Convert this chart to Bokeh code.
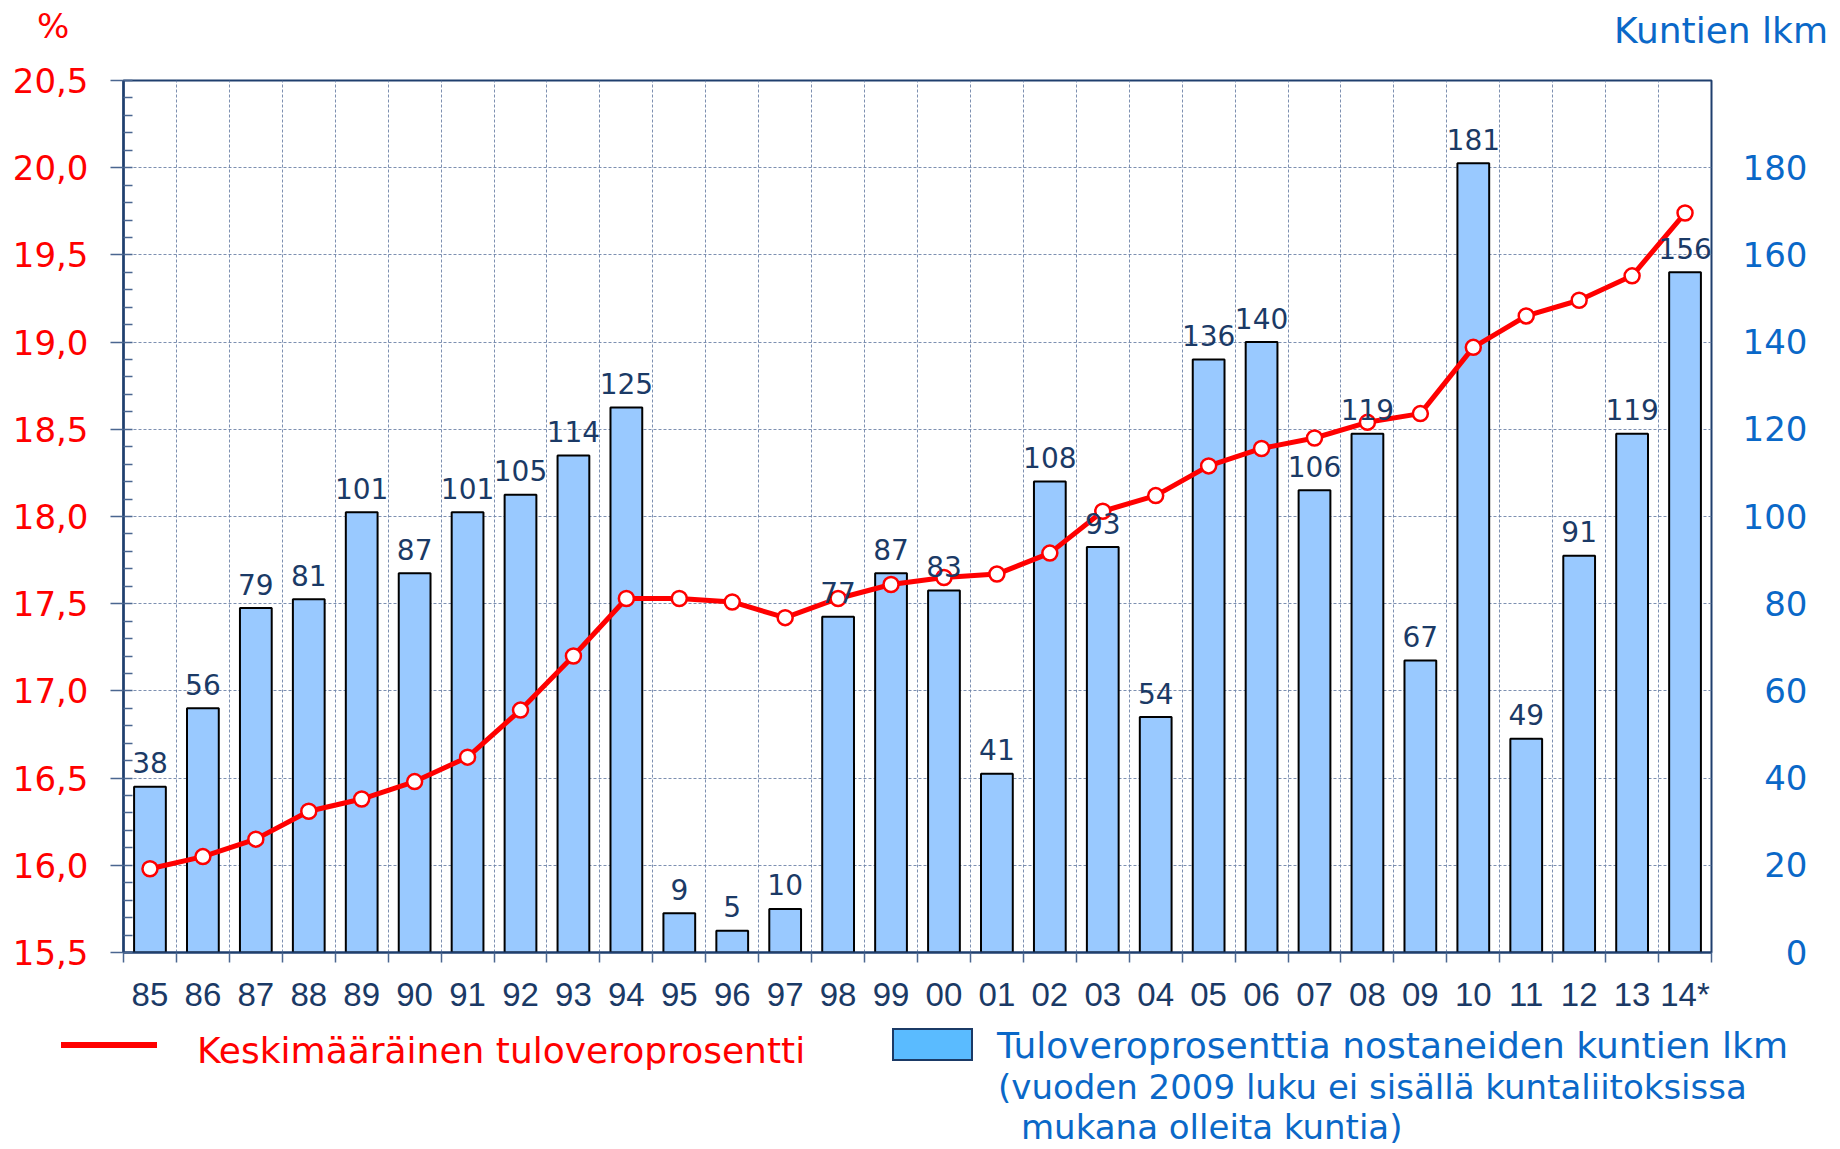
from bokeh.plotting import figure
from bokeh.layouts import column
from bokeh.models import (Range1d, LinearAxis, FixedTicker, ColumnDataSource, Div)
from bokeh.core.properties import value
from bokeh.embed import file_html
from bokeh.resources import INLINE

# ---------------- data ----------------
years = ["85", "86", "87", "88", "89", "90", "91", "92", "93", "94",
         "95", "96", "97", "98", "99", "00", "01", "02", "03", "04",
         "05", "06", "07", "08", "09", "10", "11", "12", "13", "14*"]
counts = [38, 56, 79, 81, 101, 87, 101, 105, 114, 125,
          9, 5, 10, 77, 87, 83, 41, 108, 93, 54,
          136, 140, 106, 119, 67, 181, 49, 91, 119, 156]
rates = [15.98, 16.05, 16.15, 16.31, 16.38, 16.48, 16.62, 16.89, 17.20, 17.53,
         17.53, 17.51, 17.42, 17.53, 17.61, 17.65, 17.67, 17.79, 18.03, 18.12,
         18.29, 18.39, 18.45, 18.54, 18.59, 18.97, 19.15, 19.24, 19.38, 19.74]
pct_ticks = [15.5, 16.0, 16.5, 17.0, 17.5, 18.0, 18.5, 19.0, 19.5, 20.0, 20.5]
pct_labels = ["15,5", "16,0", "16,5", "17,0", "17,5", "18,0", "18,5", "19,0", "19,5", "20,0", "20,5"]
count_ticks = [0, 20, 40, 60, 80, 100, 120, 140, 160, 180]

line_name = "Keskimääräinen tuloveroprosentti"
bar_name = "Tuloveroprosenttia nostaneiden kuntien lkm"
note_1 = "(vuoden 2009 luku ei sisällä kuntaliitoksissa"
note_2 = "mukana olleita kuntia)"
left_title = "%"
right_title = "Kuntien lkm"

# ---------------- layout constants ----------------
W = 1832
FW, FH = 1588, 872
BL, BR = 123, W - 123 - 1588
HT = 55            # top strip height
MT, MB = 25, 72    # main figure top / bottom borders
HB = 124           # bottom strip height
N = len(years)
YMIN, YMAX = 15.5, 20.5
CMAX = 200
LABEL_GAP_PX = 24  # gap between bar top and its value label anchor

FONT = "DejaVu Sans"
NAVY = "#1B3A66"
RED = "#FF0000"
BLUE = "#0A68C8"
BAR_FILL = "#99C9FF"
SWATCH_FILL = "#5ABBFF"


def span(text, left, top, size, color, right=None):
    pos = f"left:{left}px;" if right is None else f"right:{right}px;"
    return (f'<span style="position:absolute;{pos}top:{top}px;'
            f"font-family:'{FONT}';font-size:{size}px;line-height:{size}px;"
            f'color:{color};white-space:nowrap;">{text}</span>')


# ---------------- top strip (axis titles) ----------------
top_html = (f'<div style="position:relative;width:{W}px;height:{HT}px;">'
            + span(left_title, 37, 9, 34, RED)
            + span(right_title, None, 13, 36, BLUE, right=W - 1828)
            + '</div>')
top = Div(text=top_html, width=W, height=HT, margin=0)

# ---------------- main chart ----------------
xs = [i + 0.5 for i in range(N)]
gap_units = LABEL_GAP_PX * CMAX / FH
src = ColumnDataSource(dict(x=xs, count=counts, rate=rates,
                            lab=[str(c) for c in counts],
                            lab_y=[c + gap_units for c in counts]))

p = figure(frame_width=FW, frame_height=FH,
           x_range=Range1d(0, N), y_range=Range1d(YMIN, YMAX),
           output_backend="svg", toolbar_location=None,
           min_border_left=BL, min_border_top=MT,
           min_border_right=BR, min_border_bottom=MB)
p.extra_y_ranges = {"count": Range1d(0, CMAX)}
p.background_fill_color = "white"
p.border_fill_color = "white"
p.outline_line_color = "#1F3F6E"
p.outline_line_width = 2

# grids
p.xgrid.ticker = FixedTicker(ticks=list(range(1, N)))
p.ygrid.ticker = FixedTicker(ticks=pct_ticks[1:-1])
for g in (p.xgrid, p.ygrid):
    g.grid_line_color = "#6F84A8"
    g.grid_line_dash = "3 2"
    g.grid_line_width = 1
    g.grid_line_alpha = 0.9

# left axis
ya = p.yaxis[0]
ya.ticker = FixedTicker(ticks=pct_ticks,
                        minor_ticks=[round(YMIN + 0.1 * k, 1) for k in range(51)])
ya.major_label_overrides = {t: l for t, l in zip(pct_ticks, pct_labels)}
ya.major_label_text_font = FONT
ya.major_label_text_font_size = "34px"
ya.major_label_text_color = RED
ya.major_label_standoff = 22
ya.major_tick_out = 13
ya.major_tick_in = 0
ya.minor_tick_in = 9
ya.minor_tick_out = 0
ya.axis_line_color = "#1F3F6E"
ya.axis_line_width = 2.5
ya.major_tick_line_color = "#4A6690"
ya.minor_tick_line_color = "#4A6690"
ya.major_tick_line_width = 1.5
ya.minor_tick_line_width = 1.5

# bottom axis
xa = p.xaxis[0]
xa.ticker = FixedTicker(ticks=xs, minor_ticks=list(range(N + 1)))
xa.major_label_overrides = {x: y for x, y in zip(xs, years)}
xa.major_label_text_font = "Liberation Sans"
xa.major_label_text_font_size = "33px"
xa.major_label_text_color = NAVY
xa.major_label_standoff = 13
xa.major_tick_in = 0
xa.major_tick_out = 0
xa.minor_tick_in = 0
xa.minor_tick_out = 10
xa.minor_tick_line_color = "#4A6690"
xa.minor_tick_line_width = 1.5
xa.axis_line_color = "#1F3F6E"
xa.axis_line_width = 2

# right axis (count)
fs = "\u2007"
ra = LinearAxis(y_range_name="count", ticker=FixedTicker(ticks=count_ticks))
ra.major_label_overrides = {t: fs * (3 - len(str(t))) + str(t) for t in count_ticks}
ra.major_label_text_font = FONT
ra.major_label_text_font_size = "34px"
ra.major_label_text_color = BLUE
ra.major_label_standoff = 31
ra.major_tick_in = 0
ra.major_tick_out = 0
ra.minor_tick_in = 0
ra.minor_tick_out = 0
ra.axis_line_color = None
p.add_layout(ra, "right")

# bars
p.vbar(x="x", top="count", width=0.6, bottom=0, source=src,
       y_range_name="count", fill_color=BAR_FILL,
       line_color="black", line_width=2)

# line
p.line(x="x", y="rate", source=src, line_color=RED, line_width=5)
p.scatter(x="x", y="rate", source=src, marker="circle", size=15,
          fill_color="white", line_color=RED, line_width=2.5)

# value labels on top
p.text(x="x", y="lab_y", text="lab", source=src, y_range_name="count",
       text_align="center", text_baseline="alphabetic",
       text_font=value(FONT), text_font_size="28px", text_color=NAVY)

# ---------------- bottom strip (legend) ----------------
red_line = ('<span style="position:absolute;left:61px;top:18px;width:96px;'
            f'height:6px;background:{RED};"></span>')
blue_box = ('<span style="position:absolute;left:892px;top:4px;width:81px;'
            f'height:33px;box-sizing:border-box;background:{SWATCH_FILL};'
            f'border:2px solid {NAVY};"></span>')
bot_html = (f'<div style="position:relative;width:{W}px;height:{HB}px;">'
            + red_line
            + span(line_name, 197, 9, 36, RED)
            + blue_box
            + span(bar_name, 997, 4, 36, BLUE)
            + span(note_1, 998, 46, 34, BLUE)
            + span(note_2, 1021, 86, 34, BLUE)
            + '</div>')
bot = Div(text=bot_html, width=W, height=HB, margin=0)

layout = column(top, p, bot, spacing=0)
open("out.html", "w").write(file_html(layout, INLINE))
